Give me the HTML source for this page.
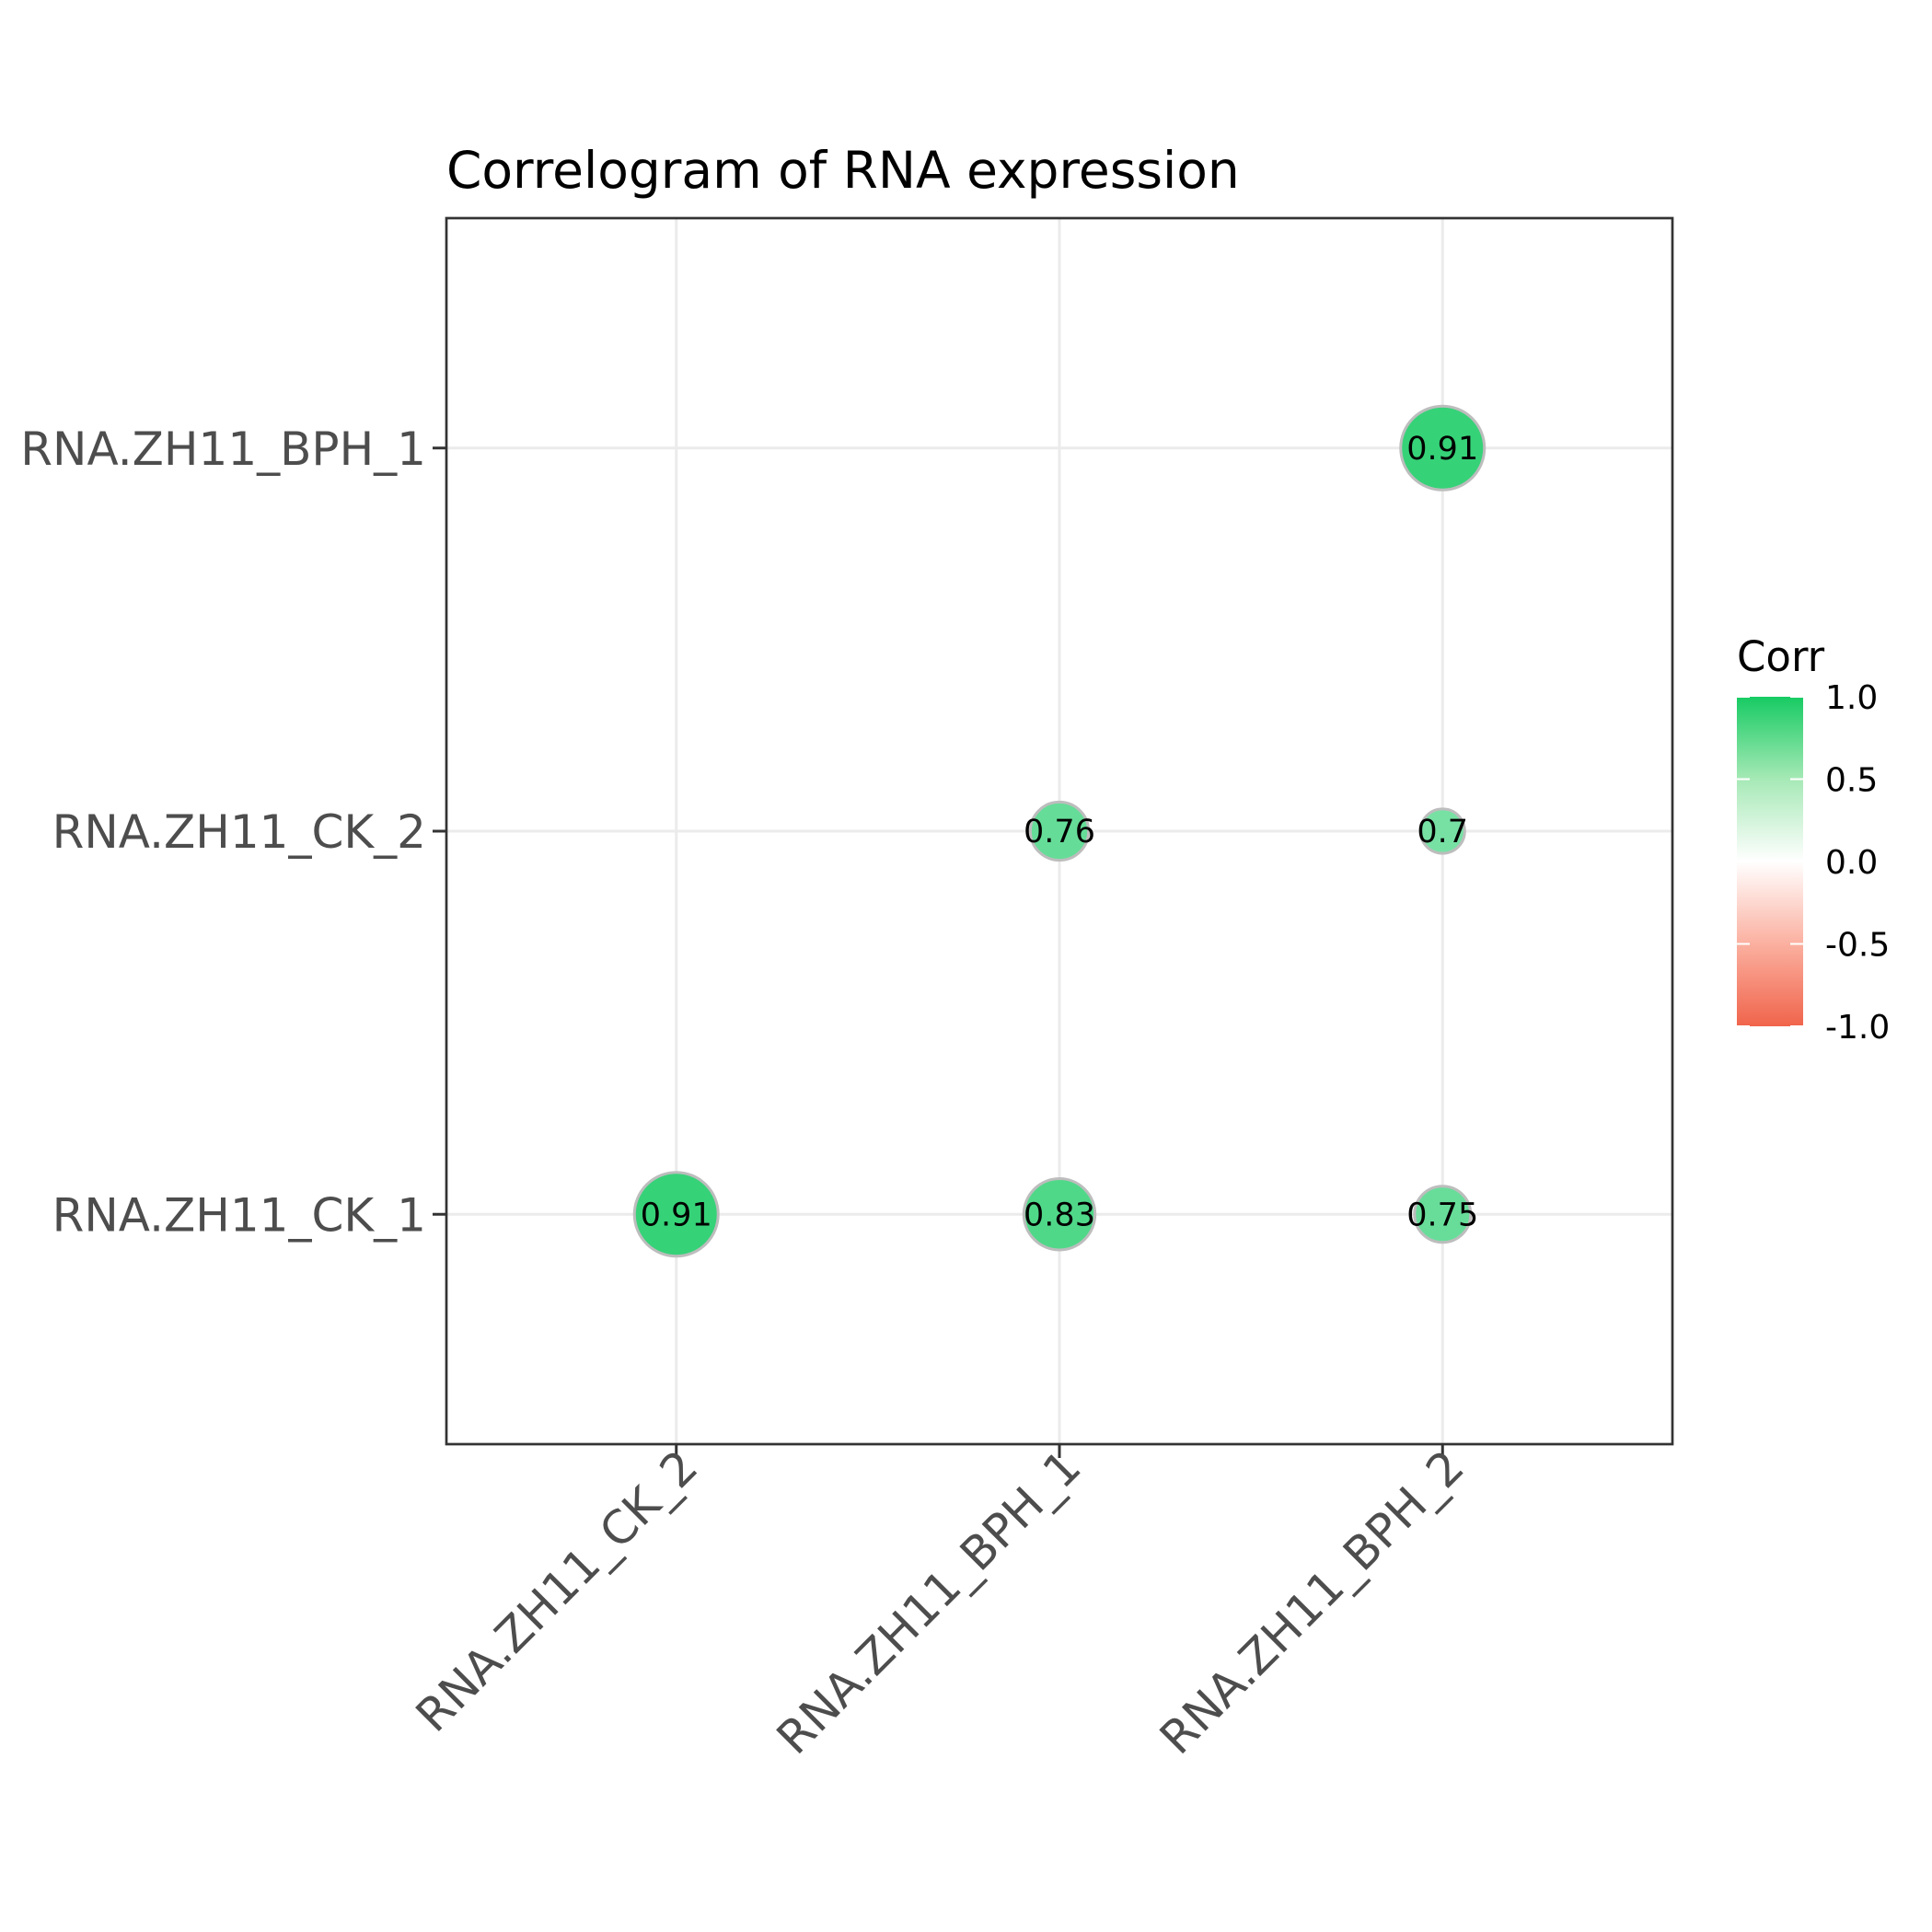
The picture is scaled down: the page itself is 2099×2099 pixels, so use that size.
<!DOCTYPE html>
<html><head><meta charset="utf-8"><style>
html,body{margin:0;padding:0;background:#fff}
svg{display:block;font-family:"DejaVu Sans","Liberation Sans",sans-serif}
</style></head><body>
<svg id="chart" width="2099" height="2099" viewBox="0 0 2099 2099" xmlns="http://www.w3.org/2000/svg">
<defs>
<linearGradient id="cbar" x1="0" y1="1" x2="0" y2="0">
<stop offset="0" stop-color="#F0644B"/>
<stop offset="0.25" stop-color="#FBB0A0"/>
<stop offset="0.5" stop-color="#FFFFFF"/>
<stop offset="0.75" stop-color="#A6E9B6"/>
<stop offset="1" stop-color="#17CB63"/>
</linearGradient>
</defs>
<rect x="0" y="0" width="2099" height="2099" fill="#fff"/>
<text x="485" y="204" font-size="55" fill="#000">Correlogram of RNA expression</text>
<g id="grid"></g>
<g id="marks"></g>
<rect x="485" y="237" width="1332" height="1332" fill="none" stroke="#333" stroke-width="2.7"/>
<g id="axes"></g>
<g id="legend">
<text x="1887" y="729" font-size="45" fill="#000">Corr</text>
<rect x="1887" y="757" width="72" height="358" fill="url(#cbar)"/>
</g>
</svg>
<script>
const xCategories = ["RNA.ZH11_CK_2","RNA.ZH11_BPH_1","RNA.ZH11_BPH_2"];
const yCategories = ["RNA.ZH11_CK_1","RNA.ZH11_CK_2","RNA.ZH11_BPH_1"];
const pointX = ["RNA.ZH11_CK_2","RNA.ZH11_BPH_1","RNA.ZH11_BPH_2","RNA.ZH11_BPH_1","RNA.ZH11_BPH_2","RNA.ZH11_BPH_2"];
const pointY = ["RNA.ZH11_CK_1","RNA.ZH11_CK_1","RNA.ZH11_CK_1","RNA.ZH11_CK_2","RNA.ZH11_CK_2","RNA.ZH11_BPH_1"];
const corrValues = [0.91,0.83,0.75,0.76,0.7,0.91];
const legendTicks = [1.0,0.5,0.0,-0.5,-1.0];
const legendLabels = ["1.0","0.5","0.0","-0.5","-1.0"];

const NS="http://www.w3.org/2000/svg";
const P={l:485,t:237,w:1332,h:1332};
function xScale(c){const i=xCategories.indexOf(c);return P.l+P.w*(i+0.6)/(xCategories.length-1+1.2);}
function yScale(c){const i=yCategories.indexOf(c);return P.t+P.h-P.h*(i+0.6)/(yCategories.length-1+1.2);}
function rScale(v){return Math.sqrt(Math.max(1024+(Math.abs(v)-0.75)*7406,100));}
function colorScale(v){
  const t=Math.pow(Math.min(1,Math.abs(v)),1.5);
  const end=v>=0?[23,203,99]:[240,100,75];
  const c=end.map(e=>Math.round(255+(e-255)*t));
  return `rgb(${c[0]},${c[1]},${c[2]})`;
}
function lgY(v){return 757+358*(1-(v+1)/2);}
function mk(tag,attrs,parent){const e=document.createElementNS(NS,tag);for(const k in attrs)e.setAttribute(k,attrs[k]);parent.appendChild(e);return e;}

const grid=document.getElementById('grid');
xCategories.forEach(c=>{
  const l=mk('line',{x1:xScale(c),x2:xScale(c),y1:P.t,y2:P.t+P.h,stroke:'#ebebeb','stroke-width':3},grid);
  
  
});
yCategories.forEach(c=>{
  const l=mk('line',{x1:P.l,x2:P.l+P.w,y1:yScale(c),y2:yScale(c),stroke:'#ebebeb','stroke-width':3},grid);
  
  
});

const marks=document.getElementById('marks');
corrValues.forEach((v,i)=>{
  const cx=xScale(pointX[i]),cy=yScale(pointY[i]);
  const c=mk('circle',{cx:cx,cy:cy,r:rScale(v)-1.5,fill:colorScale(v),stroke:'#bdbdbd','stroke-width':3},marks);
  
  
  const t=mk('text',{x:cx,y:cy+12,'font-size':35,'text-anchor':'middle',fill:'#000'},marks);
  t.textContent=String(v);
  
  
});

const axes=document.getElementById('axes');
yCategories.forEach(c=>{
  const y=yScale(c);
  const tk=mk('line',{x1:P.l-15,x2:P.l,y1:y,y2:y,stroke:'#333','stroke-width':3},axes);
  
  
  const t=mk('text',{x:P.l-22,y:y+18,'font-size':50,'text-anchor':'end',fill:'#4d4d4d'},axes);
  t.textContent=c;
  
  
});
xCategories.forEach(c=>{
  const x=xScale(c);
  const tk=mk('line',{x1:x,x2:x,y1:P.t+P.h,y2:P.t+P.h+15,stroke:'#333','stroke-width':3},axes);
  
  
  const t=mk('text',{transform:`translate(${x+26},${P.t+P.h+28}) rotate(-45)`,'font-size':50,'text-anchor':'end',fill:'#4d4d4d'},axes);
  t.textContent=c;
  
  
});

const legend=document.getElementById('legend');
legendTicks.forEach((v,i)=>{
  const y=lgY(v);
  const a=mk('line',{x1:1887,x2:1901,y1:y,y2:y,stroke:'#fff','stroke-width':2},legend);
  
  
  const b=mk('line',{x1:1945,x2:1959,y1:y,y2:y,stroke:'#fff','stroke-width':2},legend);
  
  
  const t=mk('text',{x:1983,y:y+13,'font-size':36,fill:'#000'},legend);
  t.textContent=legendLabels[i];
  
  
});
</script>
</body></html>
